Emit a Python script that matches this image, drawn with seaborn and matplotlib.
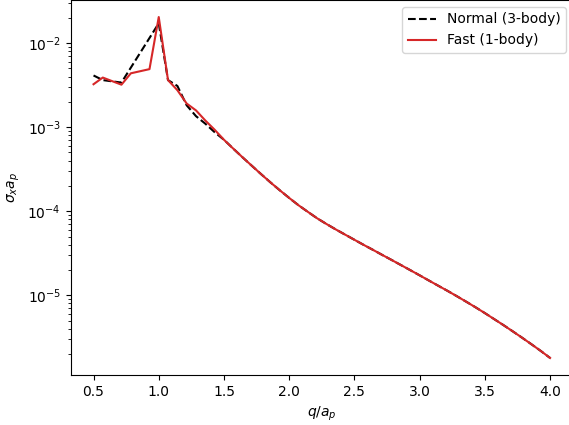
import numpy as np
import pandas as pd
import seaborn as sns
import matplotlib
matplotlib.use("Agg")
import matplotlib.pyplot as plt

# q/a_p values where each run was sampled (below q=1 the runs differ)
q_normal_head = [0.5, 0.571, 0.714]
q_fast_head = [0.5, 0.571, 0.714, 0.786, 0.929]
q_tail = [1.0, 1.071, 1.143, 1.214, 1.286, 1.357, 1.429, 1.5,
          1.571, 1.643, 1.714, 1.786, 1.857, 1.929, 2.0,
          2.071, 2.143, 2.214, 2.286, 2.357, 2.429, 2.5,
          2.571, 2.643, 2.714, 2.786, 2.857, 2.929, 3.0,
          3.071, 3.143, 3.214, 3.286, 3.357, 3.429, 3.5,
          3.571, 3.643, 3.714, 3.786, 3.857, 3.929, 4.0]

sigma_normal_head = [4.12e-3, 3.63e-3, 3.39e-3]
sigma_fast_head = [3.24e-3, 3.89e-3, 3.20e-3, 4.37e-3, 4.90e-3]

# q = 1.0 .. 1.5 (the runs differ a little here)
sigma_normal_mid = [1.72e-2, 3.63e-3, 3.09e-3, 1.82e-3, 1.35e-3, 1.10e-3, 8.7e-4, 7.08e-4]
sigma_fast_mid = [2.04e-2, 3.63e-3, 2.75e-3, 1.91e-3, 1.58e-3, 1.20e-3, 9.3e-4, 7.08e-4]

# q = 1.571 .. 4.0 (both runs agree)
sigma_common = [5.56e-4, 4.37e-4, 3.47e-4, 2.75e-4, 2.20e-4, 1.77e-4, 1.44e-4,
                1.18e-4, 9.84e-5, 8.25e-5, 7.05e-5, 6.08e-5, 5.27e-5, 4.58e-5,
                3.98e-5, 3.47e-5, 3.02e-5, 2.63e-5, 2.29e-5, 1.99e-5, 1.73e-5,
                1.50e-5, 1.30e-5, 1.13e-5, 9.75e-6, 8.40e-6, 7.20e-6, 6.15e-6,
                5.22e-6, 4.42e-6, 3.73e-6, 3.13e-6, 2.62e-6, 2.18e-6, 1.80e-6]

normal = pd.DataFrame({"q": q_normal_head + q_tail,
                       "sigma": sigma_normal_head + sigma_normal_mid + sigma_common})
fast = pd.DataFrame({"q": q_fast_head + q_tail,
                     "sigma": sigma_fast_head + sigma_fast_mid + sigma_common})

fig = plt.figure(figsize=(5.69, 4.25), dpi=100)
ax = fig.add_axes([70.7 / 569, 50 / 425, 502.2 / 569, 375 / 425])

sns.lineplot(data=normal, x="q", y="sigma", ax=ax, color="black",
             linestyle="--", label="Normal (3-body)", sort=False)
sns.lineplot(data=fast, x="q", y="sigma", ax=ax, color="tab:red",
             label="Fast (1-body)", sort=False)

ax.set_yscale("log")
ax.set_xlabel("$q/a_p$")
ax.set_ylabel("$\\sigma_x a_p$")
ax.legend(loc="upper right")
# the reference is cropped just before the right frame line
ax.spines["right"].set_visible(False)

fig.savefig("out.png", dpi=100)
